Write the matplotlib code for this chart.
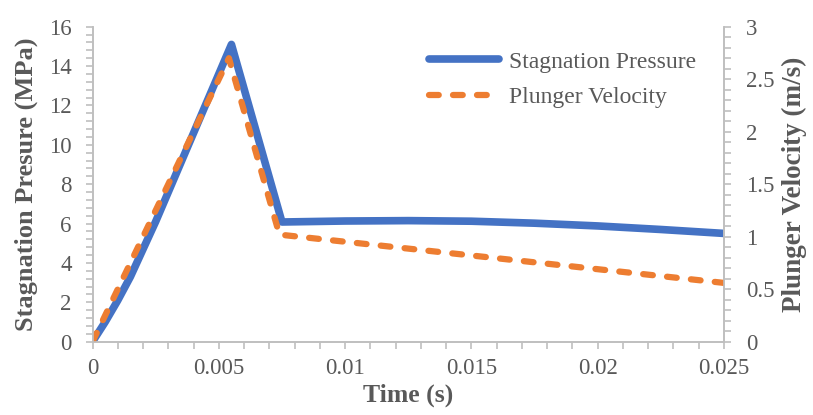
import matplotlib.pyplot as plt
from matplotlib.ticker import MultipleLocator

# Stagnation pressure (MPa) against time (s)
t_p = [0, 0.0005, 0.001, 0.0015, 0.002, 0.0025, 0.003, 0.0035, 0.004, 0.0045, 0.005, 0.0055,
       0.0075, 0.01, 0.0125, 0.015, 0.0175, 0.02, 0.0225, 0.025]
pressure = [0, 1.0, 2.1, 3.3, 4.7, 6.1, 7.6, 9.1, 10.6, 12.1, 13.6, 15.1,
            6.08, 6.13, 6.15, 6.12, 6.02, 5.88, 5.7, 5.5]

# Plunger velocity (m/s) against time (s)
t_v = [0, 0.0054, 0.0074, 0.025]
velocity = [0, 2.7, 1.02, 0.56]

blue = '#4472C4'
orange = '#ED7D31'
grey_txt = '#595959'
grey_ax = '#BFBFBF'

plt.rcParams['font.family'] = ['Liberation Serif', 'DejaVu Serif']

fig = plt.figure(figsize=(8.13, 4.15), dpi=100)
ax = fig.add_axes([0.1138, 0.1766, 0.7767, 0.7591])
ax2 = ax.twinx()

l1, = ax.plot(t_p, pressure, color=blue, lw=5.5, solid_capstyle='round',
              solid_joinstyle='round', label='Stagnation Pressure')
l2, = ax2.plot(t_v, velocity, color=orange, lw=4.5, dashes=(1.56, 2.28),
               dash_capstyle='round', dash_joinstyle='round', label='Plunger Velocity')

ax.set_xlim(0, 0.025)
ax.set_ylim(0, 16)
ax2.set_ylim(0, 3)

ax.xaxis.set_major_locator(MultipleLocator(0.005))
ax.xaxis.set_minor_locator(MultipleLocator(0.001))
ax.yaxis.set_major_locator(MultipleLocator(2))
ax.yaxis.set_minor_locator(MultipleLocator(0.4))
ax2.yaxis.set_major_locator(MultipleLocator(0.5))
ax2.yaxis.set_minor_locator(MultipleLocator(0.1))

ax.set_xticks([0, 0.005, 0.01, 0.015, 0.02, 0.025])
ax.set_xticklabels(['0', '0.005', '0.01', '0.015', '0.02', '0.025'])
ax2.set_yticks([0, 0.5, 1, 1.5, 2, 2.5, 3])
ax2.set_yticklabels(['0', '0.5', '1', '1.5', '2', '2.5', '3'])

for a in (ax, ax2):
    for side in a.spines:
        a.spines[side].set_color(grey_ax)
        a.spines[side].set_linewidth(1.2)
    a.spines['top'].set_visible(False)
    a.tick_params(which='both', color=grey_ax, width=1.2, length=5,
                  labelsize=16.5, labelcolor=grey_txt)

ax.tick_params(axis='y', pad=10)
ax.tick_params(axis='x', pad=7)
ax2.tick_params(axis='y', pad=11)

ax.set_xlabel('Time (s)', fontsize=18.5, fontweight='bold', color=grey_txt, labelpad=3)
ax.set_ylabel('Stagnation Presure (MPa)', fontsize=19, fontweight='bold', color=grey_txt, labelpad=8)
ax2.set_ylabel('Plunger Velocity (m/s)', fontsize=19.5, fontweight='bold', color=grey_txt, labelpad=5)

# orange dashes sit above the blue line
ax2.set_zorder(ax.get_zorder() + 1)

leg = ax2.legend(handles=[l1, l2], loc='upper right', bbox_to_anchor=(0.99, 0.99),
                 frameon=False, fontsize=17, handlelength=3.0, handletextpad=0.42,
                 labelspacing=0.6, labelcolor=grey_txt)

fig.savefig('out.png', dpi=100)
